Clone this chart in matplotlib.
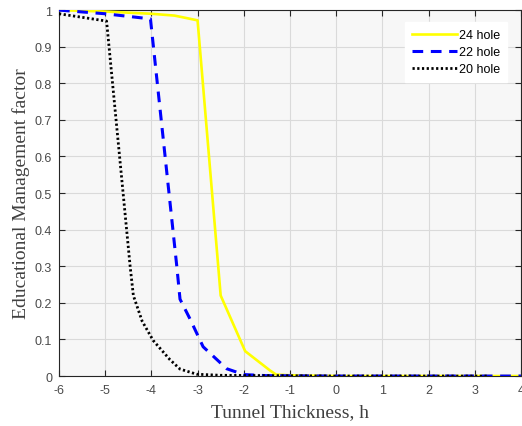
import matplotlib
matplotlib.use("Agg")
import matplotlib.pyplot as plt

# Data
x24 = [-6, -5, -4, -3.5, -3, -2.5, -1.97, -1.43, -1.3, -1, 0, 1, 2, 3, 4]
y24 = [1.0, 0.996, 0.99, 0.985, 0.972, 0.22, 0.068, 0.015, 0.004, 0.002, 0, 0, 0, 0, 0]

x22 = [-6, -5, -4.02, -3.45, -3.38, -3.16, -2.88, -2.37, -2.0, -1.5, 0, 2, 4]
y22 = [1.0, 0.99, 0.976, 0.30, 0.21, 0.155, 0.08, 0.02, 0.004, 0.001, 0, 0, 0]

x20 = [-6, -4.97, -4.46, -4.39, -4.2, -3.96, -3.6, -3.38, -3.02, -2.5, 0, 3.3]
y20 = [0.99, 0.97, 0.30, 0.22, 0.15, 0.097, 0.045, 0.019, 0.005, 0.002, 0, 0]

labels = ["24 hole", "22 hole", "20 hole"]
xticks = [-6, -5, -4, -3, -2, -1, 0, 1, 2, 3, 4]
yticks = [0, 0.1, 0.2, 0.3, 0.4, 0.5, 0.6, 0.7, 0.8, 0.9, 1]

plt.rcParams['axes.unicode_minus'] = False

fig = plt.figure(figsize=(5.22, 4.27), dpi=100)
ax = fig.add_axes([0.113, 0.117, 0.885, 0.857])
ax.set_facecolor('#f7f7f7')

ax.plot(x24, y24, color='#ffff00', lw=1.9, label=labels[0], zorder=3)
ax.plot(x22, y22, color='#0000ff', lw=2.2, ls=(0, (3.5, 2.5)), label=labels[1], zorder=4)
ax.plot(x20, y20, color='black', lw=2.0, ls=(0, (0.8, 0.9)), label=labels[2], zorder=5)

ax.set_xlim(-6, 4)
ax.set_ylim(0, 1)
ax.set_xticks(xticks)
ax.set_yticks(yticks)
ax.set_xticklabels([str(t) for t in xticks])
ax.set_yticklabels(["0"] + [("%g" % t) for t in yticks[1:]])
ax.grid(True, color='#dadada', lw=0.8)
ax.set_axisbelow(True)
ax.tick_params(direction='in', top=True, right=True, length=4, width=0.8,
               colors='#262626', labelsize=9, labelcolor='#4a4a4a')
ax.tick_params(axis='x', pad=6)
ax.tick_params(axis='y', pad=5)
for lab in ax.get_xticklabels() + ax.get_yticklabels():
    lab.set_family('Liberation Sans')
for s in ax.spines.values():
    s.set_color('#262626')
    s.set_linewidth(0.8)

ax.set_xlabel("Tunnel Thickness, h", family='Liberation Serif', fontsize=14, color='#404040', labelpad=5)
ax.set_ylabel("Educational Management factor", family='Liberation Serif', fontsize=14, color='#404040', labelpad=3)

leg = ax.legend(loc='upper right', bbox_to_anchor=(0.983, 0.984), frameon=True, fancybox=False,
                prop={'family': 'Liberation Sans', 'size': 9}, handlelength=3.6,
                handletextpad=0.15, labelspacing=0.4, borderpad=0.55)
leg.get_frame().set_edgecolor('white')
leg.get_frame().set_facecolor('white')
leg.get_frame().set_alpha(1)

fig.savefig("out.png", dpi=100)
